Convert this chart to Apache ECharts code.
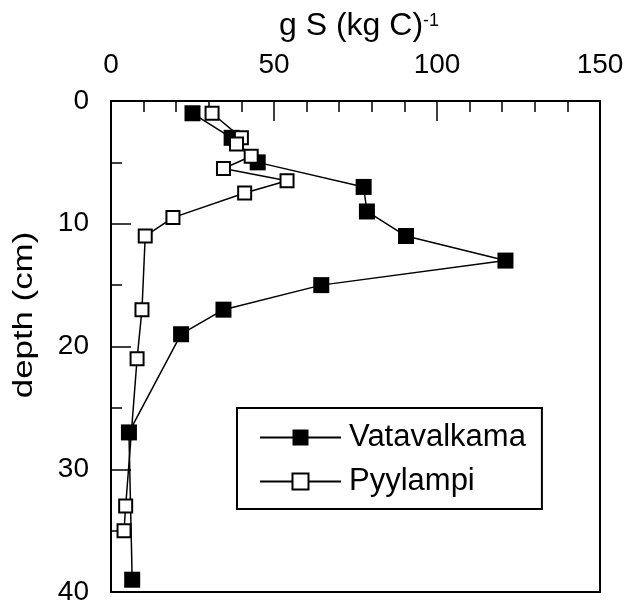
<!DOCTYPE html>
<html>
<head>
<meta charset="utf-8">
<script src="https://cdn.jsdelivr.net/npm/echarts@6/dist/echarts.min.js"></script>
<style>html,body{margin:0;padding:0;background:#fff}#c{width:629px;height:606px}</style>
</head>
<body>
<div id="c"></div>
<script>
const seriesNames = ['Vatavalkama', 'Pyylampi'];
const vatDepth = [1, 3, 5, 7, 9, 11, 13, 15, 17, 19, 27, 39];
const vatValue = [25, 37, 45, 77.5, 78.5, 90.5, 121, 64.5, 34.5, 21.5, 5.5, 6.5];
const pyyDepth = [1, 3, 3.5, 4.5, 5.5, 6.5, 7.5, 9.5, 11, 17, 21, 33, 35];
const pyyValue = [31, 40, 38.5, 43, 34.5, 54, 41, 19, 10.5, 9.5, 8, 4.5, 4];
const xTicks = [0, 50, 100, 150];
const yTicks = [0, 10, 20, 30, 40];
const xTitle = 'g S (kg C)';
const xTitleSup = '-1';
const yTitle = 'depth (cm)';

const FONT = 'Liberation Sans, Arial, Helvetica, sans-serif';
const chart = echarts.init(document.getElementById('c'), null, {renderer: 'canvas'});

function pairs(xs, ys) { return xs.map((v, i) => [v, ys[i]]); }

chart.setOption({
  backgroundColor: '#fff',
  animation: false,
  textStyle: {fontFamily: FONT, color: '#000'},
  grid: {left: 111, right: 29, top: 101, bottom: 14, show: true, borderColor: '#000', borderWidth: 2, backgroundColor: 'transparent'},
  xAxis: {
    type: 'value', position: 'top', min: xTicks[0], max: xTicks[xTicks.length - 1], interval: 50,
    axisLine: {show: true, lineStyle: {color: '#000', width: 2}},
    axisTick: {show: true, inside: true, length: 20, lineStyle: {color: '#000', width: 1.5}},
    minorTick: {show: true, splitNumber: 5, length: 11, lineStyle: {color: '#000', width: 1.5}},
    axisLabel: {fontSize: 28, color: '#000', fontFamily: FONT, margin: 22},
    splitLine: {show: false}
  },
  yAxis: {
    type: 'value', inverse: true, min: yTicks[0], max: yTicks[yTicks.length - 1], interval: 10,
    axisLine: {show: true, lineStyle: {color: '#000', width: 2}},
    axisTick: {show: true, inside: true, length: 20, lineStyle: {color: '#000', width: 1.5}},
    minorTick: {show: true, splitNumber: 2, length: 11, lineStyle: {color: '#000', width: 1.5}},
    axisLabel: {fontSize: 28, color: '#000', fontFamily: FONT, margin: 22},
    splitLine: {show: false}
  },
  legend: {
    orient: 'vertical', left: 237, top: 408,
    data: seriesNames,
    itemWidth: 81, itemHeight: 20, itemGap: 13,
    padding: [14, 16, 12, 22],
    borderColor: '#000', borderWidth: 2, backgroundColor: '#fff',
    textStyle: {fontSize: 31, color: '#000', fontFamily: FONT, padding: [0, 0, 0, 3], lineHeight: 31}
  },
  graphic: [
    {type: 'text', x: 279, y: 26, style: {text: xTitle, fontSize: 32, fontFamily: FONT, fill: '#000', align: 'left', verticalAlign: 'middle'}},
    {type: 'text', x: 423, y: 12, style: {text: xTitleSup, fontSize: 18, fontFamily: FONT, fill: '#000', align: 'left', verticalAlign: 'top'}},
    {type: 'text', x: 25, y: 315, rotation: Math.PI / 2, scaleX: 1.29, style: {text: yTitle, fontSize: 27, fontFamily: FONT, fill: '#000', align: 'center', verticalAlign: 'middle'}}
  ],
  series: [
    {
      name: seriesNames[0], type: 'line', data: pairs(vatValue, vatDepth),
      symbol: 'rect', symbolSize: 16, showAllSymbol: true,
      lineStyle: {color: '#000', width: 1.5},
      itemStyle: {color: '#000', borderColor: '#000', borderWidth: 0},
      z: 2
    },
    {
      name: seriesNames[1], type: 'line', data: pairs(pyyValue, pyyDepth),
      symbol: 'rect', symbolSize: 13, showAllSymbol: true,
      lineStyle: {color: '#000', width: 1.5},
      itemStyle: {color: '#fff', borderColor: '#000', borderWidth: 2},
      z: 3
    }
  ]
});
</script>
</body>
</html>
